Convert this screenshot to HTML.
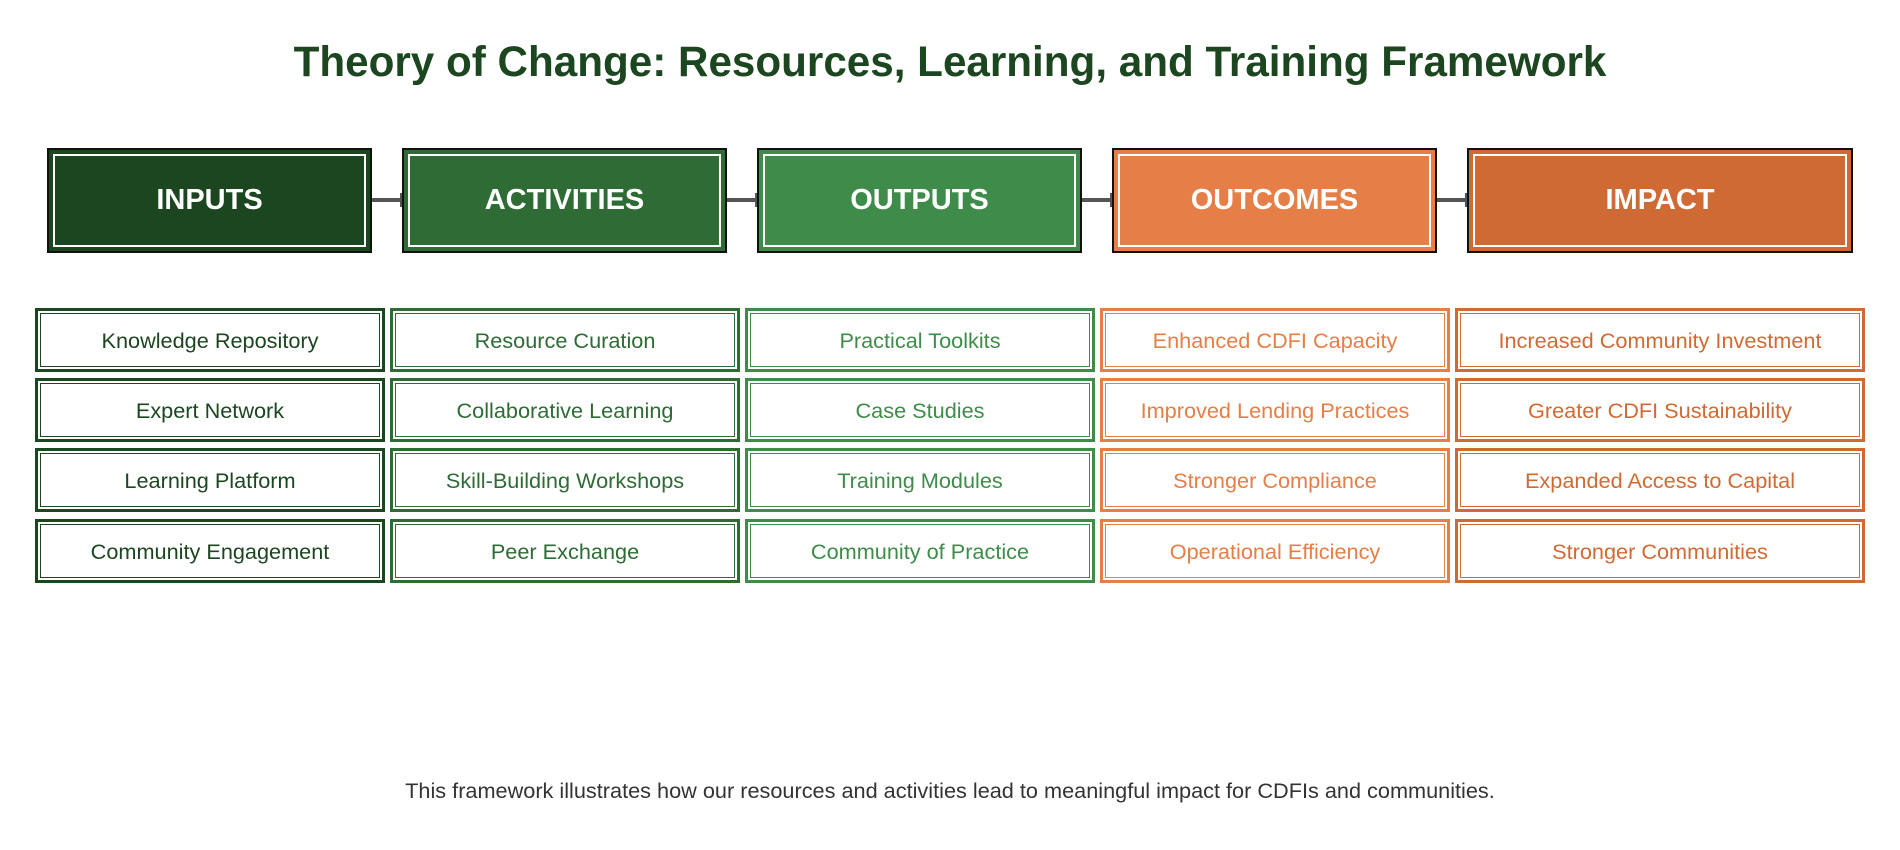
<!DOCTYPE html>
<html><head><meta charset="utf-8"><style>
body{margin:0;width:1900px;height:850px;background:#fff;position:relative;font-family:"Liberation Sans",sans-serif;overflow:hidden}
.title{position:absolute;left:0;width:1900px;top:38px;text-align:center;font-size:42.2px;font-weight:bold;color:#1c4620}
.hdr{position:absolute;top:148px;height:105px;box-sizing:border-box;border:2.5px solid #111;}
.hdr .in{position:absolute;inset:4px;border:2px solid #fff;display:flex;align-items:center;justify-content:center;color:#fff;font-weight:bold;font-size:29px}
.arrow{position:absolute;top:198px;height:4px;background:#555}
.arrow:after{content:"";position:absolute;right:-1px;top:-5px;width:3px;height:14px;background:#555}
.item{position:absolute;height:64px;box-sizing:border-box;border:3px solid;background:#fff}
.item .in{position:absolute;inset:2px;border:1.5px solid;display:flex;align-items:center;justify-content:center;font-size:21.7px;padding-top:1px;box-sizing:border-box}
.foot{position:absolute;left:0;width:1900px;top:778px;text-align:center;font-size:21.7px;color:#333}
</style></head><body>
<div class="title">Theory of Change: Resources, Learning, and Training Framework</div>
<div id="root"></div>
<div class="foot">This framework illustrates how our resources and activities lead to meaningful impact for CDFIs and communities.</div>
<script>
const stages=["INPUTS","ACTIVITIES","OUTPUTS","OUTCOMES","IMPACT"];
const colors=["#1c4620","#2e6b35","#3f8c4a","#e57e47","#d06a35"];
const items=[
["Knowledge Repository","Expert Network","Learning Platform","Community Engagement"],
["Resource Curation","Collaborative Learning","Skill-Building Workshops","Peer Exchange"],
["Practical Toolkits","Case Studies","Training Modules","Community of Practice"],
["Enhanced CDFI Capacity","Improved Lending Practices","Stronger Compliance","Operational Efficiency"],
["Increased Community Investment","Greater CDFI Sustainability","Expanded Access to Capital","Stronger Communities"]];
const hdrX=[[47,372],[402,727],[757,1082],[1112,1437],[1467,1853]];
const colX=[[35,385],[390,740],[745,1095],[1100,1450],[1455,1865]];
const rowY=[308,378,448,519];
const root=document.getElementById('root');
stages.forEach((s,i)=>{
  const h=document.createElement('div');h.className='hdr';
  
  
  h.style.left=hdrX[i][0]+'px';h.style.width=(hdrX[i][1]-hdrX[i][0])+'px';h.style.background=colors[i];
  h.innerHTML='<div class="in">'+s+'</div>';root.appendChild(h);
  if(i<stages.length-1){
    const a=document.createElement('div');a.className='arrow';
    
    
    a.style.left=hdrX[i][1]+'px';a.style.width=(hdrX[i+1][0]-hdrX[i][1])+'px';root.appendChild(a);
  }
  items[i].forEach((t,r)=>{
    const b=document.createElement('div');b.className='item';
    
    
    b.style.left=colX[i][0]+'px';b.style.width=(colX[i][1]-colX[i][0])+'px';b.style.top=rowY[r]+'px';
    b.style.borderColor=colors[i];
    b.innerHTML='<div class="in" style="border-color:'+colors[i]+';color:'+colors[i]+'">'+t+'</div>';
    root.appendChild(b);
  });
});
</script>
</body></html>
